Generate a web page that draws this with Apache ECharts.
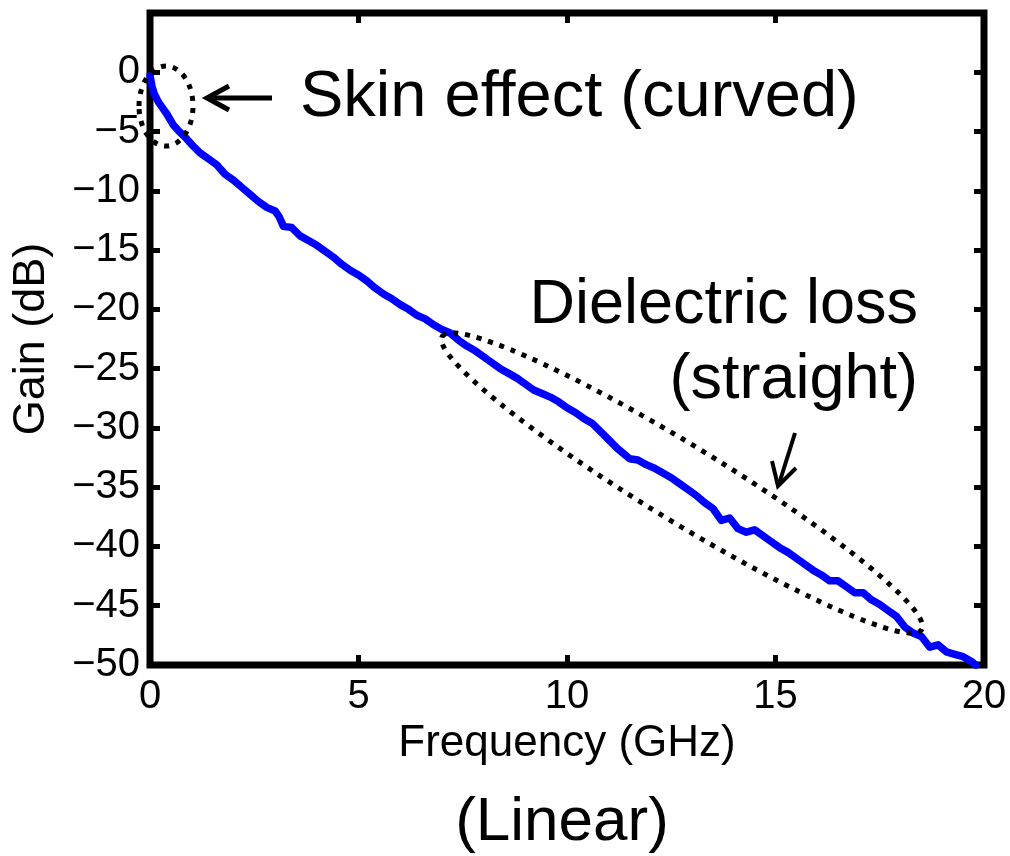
<!DOCTYPE html>
<html>
<head>
<meta charset="utf-8">
<title>Channel gain vs frequency (linear)</title>
<script src="https://cdn.jsdelivr.net/npm/echarts@6/dist/echarts.min.js"></script>
<style>
  html, body { margin: 0; padding: 0; background: #fff; }
  #chart { width: 1010px; height: 856px; }
</style>
</head>
<body>
<div id="chart"></div>
<script>
// Measured channel response: frequency (GHz) and gain (dB)
const freqGHz = [
  0, 0.05, 0.1, 0.2, 0.3, 0.4, 0.55, 0.7, 0.85, 1.0,
  1.2, 1.4, 1.6, 1.8, 2.0, 2.2, 2.4, 2.6, 2.8, 3.0,
  3.1, 3.2, 3.4, 3.6, 3.8, 4.0, 4.2, 4.4, 4.6, 4.8,
  5.0, 5.2, 5.4, 5.6, 5.8, 6.0, 6.2, 6.4, 6.6, 6.8,
  7.0, 7.2, 7.4, 7.6, 7.8, 8.0, 8.2, 8.4, 8.6, 8.8,
  9.0, 9.2, 9.4, 9.6, 9.8, 10.0, 10.2, 10.4, 10.6, 10.8,
  11.0, 11.2, 11.4, 11.5, 11.7, 11.9, 12.1, 12.3, 12.5, 12.7,
  12.9, 13.1, 13.3, 13.5, 13.7, 13.9, 14.1, 14.3, 14.5, 14.7,
  14.9, 15.1, 15.3, 15.5, 15.7, 15.9, 16.1, 16.3, 16.5, 16.7,
  16.9, 17.1, 17.3, 17.5, 17.7, 17.9, 18.1, 18.3, 18.5, 18.7,
  18.9, 19.1, 19.3, 19.5, 19.7, 19.8
];
const gainDb = [
  -0.3, -1.2, -1.8, -2.5, -3.0, -3.5, -4.4, -5.0, -5.5, -6.1,
  -6.8, -7.3, -7.8, -8.6, -9.1, -9.7, -10.3, -10.9, -11.4, -11.7,
  -12.2, -13.0, -13.1, -13.8, -14.2, -14.6, -15.1, -15.6, -16.2, -16.7,
  -17.1, -17.6, -18.2, -18.7, -19.1, -19.6, -20.0, -20.5, -20.8, -21.3,
  -21.7, -22.0, -22.6, -23.1, -23.5, -24.0, -24.5, -25.0, -25.4, -25.8,
  -26.3, -26.8, -27.1, -27.4, -27.8, -28.3, -28.7, -29.2, -29.6, -30.3,
  -31.0, -31.7, -32.3, -32.6, -32.7, -33.1, -33.4, -33.8, -34.2, -34.7,
  -35.2, -35.7, -36.3, -36.8, -37.8, -37.6, -38.5, -38.8, -38.6, -39.1,
  -39.6, -40.1, -40.5, -41.0, -41.5, -42.0, -42.4, -42.9, -42.9, -43.4,
  -43.9, -43.9, -44.5, -44.9, -45.4, -45.9, -46.8, -47.3, -47.6, -48.5,
  -48.3, -48.9, -49.1, -49.3, -49.7, -50.0
];

// Axis ranges and tick step
const freqRange = [0, 20];
const freqStep = 5;
const gainRange = [-50, 5];
const gainStep = 5;

// Text
const xName = 'Frequency (GHz)';
const yName = 'Gain (dB)';
const caption = '(Linear)';
const skinNote = 'Skin effect (curved)';
const dielectricNote = ['Dielectric loss', '(straight)'];

const FONT = '"Liberation Sans", Arial, Helvetica, sans-serif';
const points = freqGHz.map((f, i) => [f, gainDb[i]]);

const minusFmt = v => (v < 0 ? '\u2212' + (-v) : String(v));

const tickStyle = { show: true, inside: true, length: 10, lineStyle: { color: '#000', width: 5 } };
const hiddenLine = { show: false, onZero: false };

const chart = echarts.init(document.getElementById('chart'), null, { renderer: 'canvas' });

chart.setOption({
  animation: false,
  backgroundColor: '#fff',
  grid: {
    left: 150, right: 26, top: 13, bottom: 191,
    show: true, borderColor: '#000', borderWidth: 7, backgroundColor: 'transparent',
    outerBoundsMode: 'none'
  },
  xAxis: [
    {
      type: 'value', position: 'bottom',
      min: freqRange[0], max: freqRange[1], interval: freqStep,
      axisLine: hiddenLine,
      axisTick: tickStyle,
      splitLine: { show: false },
      axisLabel: { color: '#000', fontFamily: FONT, fontSize: 40, margin: 12 },
      name: xName, nameLocation: 'middle', nameGap: 51,
      nameTextStyle: { color: '#000', fontFamily: FONT, fontSize: 44 }
    },
    {
      type: 'value', position: 'top',
      min: freqRange[0], max: freqRange[1], interval: freqStep,
      axisLine: hiddenLine, axisTick: tickStyle,
      axisLabel: { show: false }, splitLine: { show: false }
    }
  ],
  yAxis: [
    {
      type: 'value', position: 'left',
      min: gainRange[0], max: gainRange[1], interval: gainStep,
      axisLine: hiddenLine,
      axisTick: tickStyle,
      splitLine: { show: false },
      axisLabel: {
        color: '#000', fontFamily: FONT, fontSize: 40, margin: 10,
        formatter: v => (v > 0 ? '' : minusFmt(v))
      },
      name: yName, nameLocation: 'middle', nameGap: 96,
      nameTextStyle: { color: '#000', fontFamily: FONT, fontSize: 45 }
    },
    {
      type: 'value', position: 'right',
      min: gainRange[0], max: gainRange[1], interval: gainStep,
      axisLine: hiddenLine, axisTick: tickStyle,
      axisLabel: { show: false }, splitLine: { show: false }
    }
  ],
  series: [
    {
      type: 'line',
      xAxisIndex: 0, yAxisIndex: 0,
      data: points,
      showSymbol: false,
      clip: false,
      lineStyle: { color: '#0000ff', width: 7.5, join: 'round', cap: 'round' },
      z: 3
    }
  ],
  graphic: [
    // caption under the chart
    {
      type: 'text', x: 562, y: 823,
      style: { text: caption, font: '62px ' + FONT, fill: '#000', textAlign: 'center', textVerticalAlign: 'middle', verticalAlign: 'middle' }
    },
    // skin effect note
    {
      type: 'text', x: 300, y: 98,
      style: { text: skinNote, font: '65px ' + FONT, fill: '#000', textAlign: 'left', textVerticalAlign: 'middle', verticalAlign: 'middle' }
    },
    { type: 'line', shape: { x1: 208, y1: 98, x2: 272, y2: 98 }, style: { stroke: '#000', lineWidth: 5 } },
    { type: 'polyline', shape: { points: [[229, 86], [207, 98], [229, 110]] }, style: { stroke: '#000', lineWidth: 5, fill: null } },
    {
      type: 'ellipse', x: 166, y: 106,
      shape: { cx: 0, cy: 0, rx: 27, ry: 40 },
      style: { fill: null, stroke: '#000', lineWidth: 5, lineDash: [5, 7] }, z: 10
    },
    // dielectric loss note
    {
      type: 'text', x: 918, y: 306,
      style: { text: dielectricNote[0], font: '63px ' + FONT, fill: '#000', textAlign: 'right', textVerticalAlign: 'middle', verticalAlign: 'middle' }
    },
    {
      type: 'text', x: 918, y: 381,
      style: { text: dielectricNote[1], font: '63px ' + FONT, fill: '#000', textAlign: 'right', textVerticalAlign: 'middle', verticalAlign: 'middle' }
    },
    { type: 'line', shape: { x1: 795, y1: 433, x2: 779, y2: 484 }, style: { stroke: '#000', lineWidth: 4 } },
    { type: 'polyline', shape: { points: [[772, 461], [778, 486], [796, 468]] }, style: { stroke: '#000', lineWidth: 4, fill: null } },
    {
      type: 'ellipse', x: 682, y: 483, rotation: -31.45 * Math.PI / 180,
      shape: { cx: 0, cy: 0, rx: 281, ry: 38 },
      style: { fill: null, stroke: '#000', lineWidth: 5, lineDash: [5, 7] }, z: 10
    }
  ]
});
</script>
</body>
</html>
